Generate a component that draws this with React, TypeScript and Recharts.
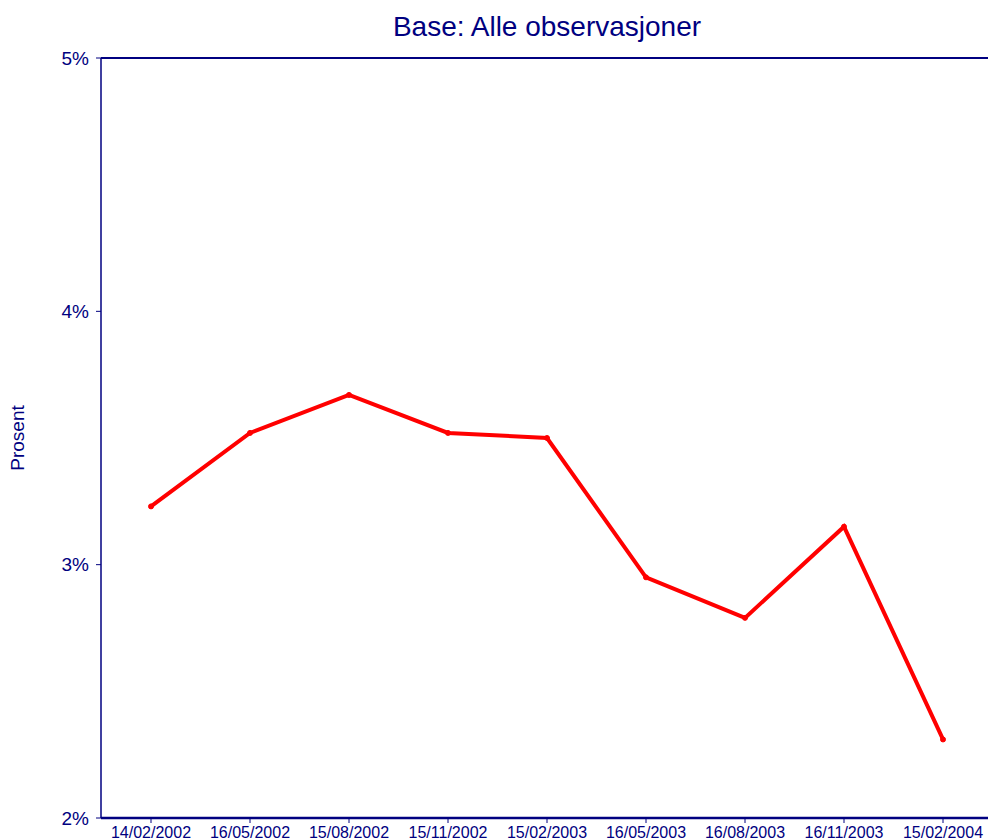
import { LineChart, Line, XAxis, YAxis, ReferenceLine } from "recharts";

const dates = [
  "14/02/2002",
  "16/05/2002",
  "15/08/2002",
  "15/11/2002",
  "15/02/2003",
  "16/05/2003",
  "16/08/2003",
  "16/11/2003",
  "15/02/2004",
];
const prosent = [3.23, 3.52, 3.67, 3.52, 3.5, 2.95, 2.79, 3.15, 2.31];
const yTicks = [2, 3, 4, 5];

const data = dates.map((date, i) => ({ date, value: prosent[i] }));

const navy = "#000080";
const font = "'Liberation Sans', Arial, sans-serif";

function ProsentLabel(props: any) {
  const vb = props.viewBox || { y: 0, height: 0 };
  const cy = vb.y + vb.height / 2;
  return (
    <text
      x={24}
      y={cy}
      transform={`rotate(-90 24 ${cy})`}
      textAnchor="middle"
      fill={navy}
      fontSize={19}
      fontFamily={font}
    >
      Prosent
    </text>
  );
}

export default function App() {
  return (
    <div
      style={{
        position: "absolute",
        left: 0,
        top: 0,
        width: 988,
        height: 839,
        overflow: "hidden",
        background: "#fff",
        fontFamily: font,
      }}
    >
      <div
        style={{
          position: "absolute",
          left: 101,
          width: 892,
          top: 10,
          textAlign: "center",
          color: navy,
          fontSize: 28,
          lineHeight: "34px",
        }}
      >
        Base: Alle observasjoner
      </div>
      <LineChart
        width={993}
        height={860}
        data={data}
        margin={{ top: 58, right: 0, bottom: 12, left: 0 }}
      >
        <XAxis
          dataKey="date"
          interval={0}
          height={30}
          padding={{ left: 50, right: 50 }}
          axisLine={{ stroke: navy, strokeWidth: 2.5 }}
          tickLine={{ stroke: navy }}
          tickSize={5}
          tickMargin={4}
          tick={{ fill: navy, fontSize: 16, fontFamily: font }}
        />
        <YAxis
          type="number"
          domain={[2, 5]}
          ticks={yTicks}
          width={101}
          axisLine={{ stroke: navy, strokeWidth: 1.5 }}
          tickLine={{ stroke: navy }}
          tickSize={5}
          tickMargin={7}
          tickFormatter={(v: number) => `${v}%`}
          tick={{ fill: navy, fontSize: 19, fontFamily: font }}
          label={<ProsentLabel />}
        />
        <ReferenceLine y={5} stroke={navy} strokeWidth={2} />
        <Line
          type="linear"
          dataKey="value"
          stroke="#ff0000"
          strokeWidth={4}
          dot={{ r: 2.5, fill: "#ff0000", stroke: "#ff0000", strokeWidth: 1 }}
          isAnimationActive={false}
        />
      </LineChart>
    </div>
  );
}
